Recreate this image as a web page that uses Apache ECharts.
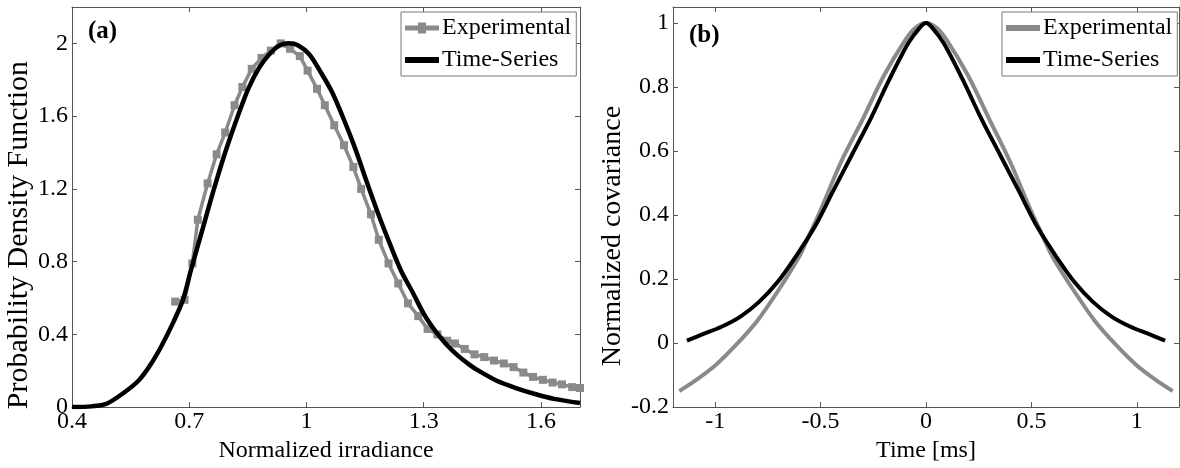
<!DOCTYPE html>
<html>
<head>
<meta charset="utf-8">
<script src="https://cdn.jsdelivr.net/npm/echarts@6/dist/echarts.min.js"></script>
<style>
  html, body { margin: 0; padding: 0; background: #fff; }
  #chart { width: 1180px; height: 468px; }
</style>
</head>
<body>
<div id="chart"></div>
<script>
// ---------- Panel (a): PDF of normalized irradiance ----------
const pdfExpX = [0.664,0.688,0.708,0.722,0.747,0.770,0.792,0.816,0.836,0.860,0.885,0.909,0.934,0.958,0.983,1.003,1.027,1.047,1.071,1.096,1.120,1.140,1.165,1.185,1.210,1.235,1.260,1.286,1.310,1.335,1.360,1.380,1.405,1.430,1.455,1.480,1.505,1.530,1.555,1.580,1.605,1.630,1.654,1.680,1.700];
const pdfExpY = [0.58,0.59,0.79,1.03,1.23,1.39,1.51,1.66,1.76,1.86,1.92,1.96,2.00,1.97,1.93,1.85,1.75,1.66,1.55,1.44,1.32,1.20,1.06,0.92,0.79,0.68,0.57,0.50,0.43,0.40,0.365,0.35,0.32,0.29,0.275,0.256,0.24,0.22,0.19,0.166,0.15,0.135,0.125,0.11,0.105];
const pdfTsX = [0.40,0.45,0.49,0.53,0.57,0.60,0.63,0.66,0.684,0.704,0.733,0.762,0.792,0.821,0.851,0.880,0.909,0.932,0.955,0.978,1.007,1.037,1.066,1.096,1.125,1.154,1.184,1.213,1.242,1.272,1.301,1.331,1.360,1.389,1.414,1.438,1.487,1.536,1.585,1.634,1.700];
const pdfTsY = [0.0,0.004,0.02,0.075,0.145,0.23,0.34,0.47,0.59,0.75,0.97,1.19,1.40,1.58,1.75,1.87,1.95,1.99,2.0,1.99,1.94,1.84,1.73,1.58,1.42,1.24,1.06,0.90,0.75,0.63,0.51,0.415,0.34,0.28,0.238,0.203,0.145,0.105,0.072,0.045,0.022];

// ---------- Panel (b): normalized covariance vs time ----------
const covExpX = [-1.17,-1.10,-1.00,-0.90,-0.80,-0.70,-0.60,-0.55,-0.50,-0.40,-0.30,-0.20,-0.10,-0.05,0.00,0.05,0.10,0.20,0.30,0.40,0.50,0.55,0.60,0.70,0.80,0.90,1.00,1.10,1.17];
const covExpY = [-0.15,-0.12,-0.07,-0.005,0.07,0.165,0.272,0.343,0.415,0.57,0.70,0.835,0.945,0.985,1.0,0.985,0.945,0.835,0.70,0.565,0.41,0.34,0.27,0.165,0.07,-0.005,-0.07,-0.12,-0.15];
const covTsX = [-1.134,-1.05,-0.97,-0.882,-0.793,-0.705,-0.616,-0.527,-0.439,-0.35,-0.261,-0.172,-0.083,-0.03,0.0,0.03,0.083,0.172,0.261,0.35,0.439,0.527,0.616,0.705,0.793,0.882,0.97,1.05,1.134];
const covTsY = [0.008,0.03,0.051,0.082,0.128,0.19,0.272,0.364,0.477,0.59,0.703,0.826,0.938,0.985,1.0,0.985,0.938,0.826,0.703,0.59,0.477,0.364,0.272,0.19,0.128,0.082,0.051,0.03,0.008];

const legendNames = ['Experimental', 'Time-Series'];
const panelTags = ['(a)', '(b)'];
const axisTitles = { ax: 'Normalized irradiance', ay: 'Probability Density Function', bx: 'Time [ms]', by: 'Normalized covariance' };

const FONT = "'Liberation Serif', 'Times New Roman', serif";
const GRAY = '#8a8a8a';
const AXC = '#555';
const BAR = 'path://M0,0H34V6H0Z';
const BAR_MARK = 'path://M0,3H13V0H21V3H34V8H21V11H13V8H0Z';

function zip(xs, ys) { return xs.map((x, i) => [x, ys[i]]); }

function xLabelCfg(extra) {
  return Object.assign({ color: '#000', fontFamily: FONT, fontSize: 24, margin: 3, showMaxLabel: false }, extra || {});
}
function yLabelCfg() {
  return { color: '#000', fontFamily: FONT, fontSize: 24, margin: 4, showMaxLabel: false,
    verticalAlignMinLabel: 'middle' };
}
function baseAxis(extra) {
  return Object.assign({
    type: 'value',
    scale: true,
    axisLine: { show: true, onZero: false, lineStyle: { color: AXC, width: 1 } },
    axisTick: { show: true, inside: true, length: 5, lineStyle: { color: AXC } },
    splitLine: { show: false },
    axisLabel: xLabelCfg(),
    nameTextStyle: { color: '#000', fontFamily: FONT, fontSize: 24 }
  }, extra);
}
function mirrorAxis(extra) {
  const a = baseAxis(extra);
  a.axisLabel = { show: false };
  return a;
}

const chart = echarts.init(document.getElementById('chart'), null, { renderer: 'canvas' });

const nameMap = { expA: legendNames[0], tsA: legendNames[1], expB: legendNames[0], tsB: legendNames[1] };
function legendCfg(left, items) {
  return {
    orient: 'vertical',
    left: left, top: 12,
    data: items,
    formatter: n => nameMap[n],
    itemWidth: 34, itemHeight: 12, itemGap: 4,
    symbolKeepAspect: true,
    padding: [2, 5, 2, 4],
    backgroundColor: '#fff',
    borderColor: '#777', borderWidth: 1, borderRadius: 0,
    textStyle: { color: '#000', fontFamily: FONT, fontSize: 24, lineHeight: 28, padding: [0, 0, 0, -2] },
    selectedMode: false
  };
}

const option = {
  animation: false,
  backgroundColor: '#fff',
  grid: [
    { left: 72, top: 7, width: 508, height: 406, containLabel: false },
    { left: 673, top: 7, width: 506, height: 406, containLabel: false }
  ],
  xAxis: [
    baseAxis({ gridIndex: 0, min: 0.4, max: 1.7, interval: 0.3, position: 'bottom',
      name: axisTitles.ax, nameLocation: 'middle', nameGap: 22 }),
    mirrorAxis({ gridIndex: 0, min: 0.4, max: 1.7, interval: 0.3, position: 'top' }),
    baseAxis({ gridIndex: 1, min: -1.2, max: 1.2, splitNumber: 5, position: 'bottom',
      name: axisTitles.bx, nameLocation: 'middle', nameGap: 22,
      axisLabel: xLabelCfg({ showMinLabel: false }) }),
    mirrorAxis({ gridIndex: 1, min: -1.2, max: 1.2, splitNumber: 5, position: 'top' })
  ],
  yAxis: [
    baseAxis({ gridIndex: 0, min: 0, max: 2.2, interval: 0.4, position: 'left',
      axisLabel: yLabelCfg(),
      name: axisTitles.ay, nameLocation: 'middle', nameGap: 36,
      nameTextStyle: { color: '#000', fontFamily: FONT, fontSize: 30, padding: [0, 56, 0, 0] } }),
    mirrorAxis({ gridIndex: 0, min: 0, max: 2.2, interval: 0.4, position: 'right' }),
    baseAxis({ gridIndex: 1, min: -0.2, max: 1.05, interval: 0.2, position: 'left',
      axisLabel: yLabelCfg(),
      name: axisTitles.by, nameLocation: 'middle', nameGap: 45,
      nameTextStyle: { color: '#000', fontFamily: FONT, fontSize: 28, padding: [0, 58, 0, 0] } }),
    mirrorAxis({ gridIndex: 1, min: -0.2, max: 1.05, interval: 0.2, position: 'right' })
  ],
  legend: [
    legendCfg(401, [{ name: 'expA', icon: BAR_MARK }, { name: 'tsA', icon: BAR }]),
    legendCfg(1002, [{ name: 'expB', icon: BAR }, { name: 'tsB', icon: BAR }])
  ],
  graphic: [
    { type: 'text', left: 88, top: 19, style: { text: panelTags[0], font: "bold 25px " + FONT, fill: '#000' } },
    { type: 'text', left: 689, top: 23, style: { text: panelTags[1], font: "bold 25px " + FONT, fill: '#000' } }
  ],
  series: [
    { name: 'expA', type: 'line', xAxisIndex: 0, yAxisIndex: 0, data: zip(pdfExpX, pdfExpY),
      symbol: 'rect', symbolSize: 8, showSymbol: true,
      itemStyle: { color: GRAY }, lineStyle: { color: GRAY, width: 3.5 }, z: 2 },
    { name: 'tsA', type: 'line', xAxisIndex: 0, yAxisIndex: 0, data: zip(pdfTsX, pdfTsY),
      symbol: 'none', smooth: 0.3, itemStyle: { color: '#000' }, lineStyle: { color: '#000', width: 4.5 }, z: 3 },
    { name: 'expB', type: 'line', xAxisIndex: 2, yAxisIndex: 2, data: zip(covExpX, covExpY),
      symbol: 'none', smooth: 0.3, itemStyle: { color: GRAY }, lineStyle: { color: GRAY, width: 4 }, z: 2 },
    { name: 'tsB', type: 'line', xAxisIndex: 2, yAxisIndex: 2, data: zip(covTsX, covTsY),
      symbol: 'none', smooth: 0.3, itemStyle: { color: '#000' }, lineStyle: { color: '#000', width: 4 }, z: 3 }
  ]
};
chart.setOption(option);
</script>
</body>
</html>
